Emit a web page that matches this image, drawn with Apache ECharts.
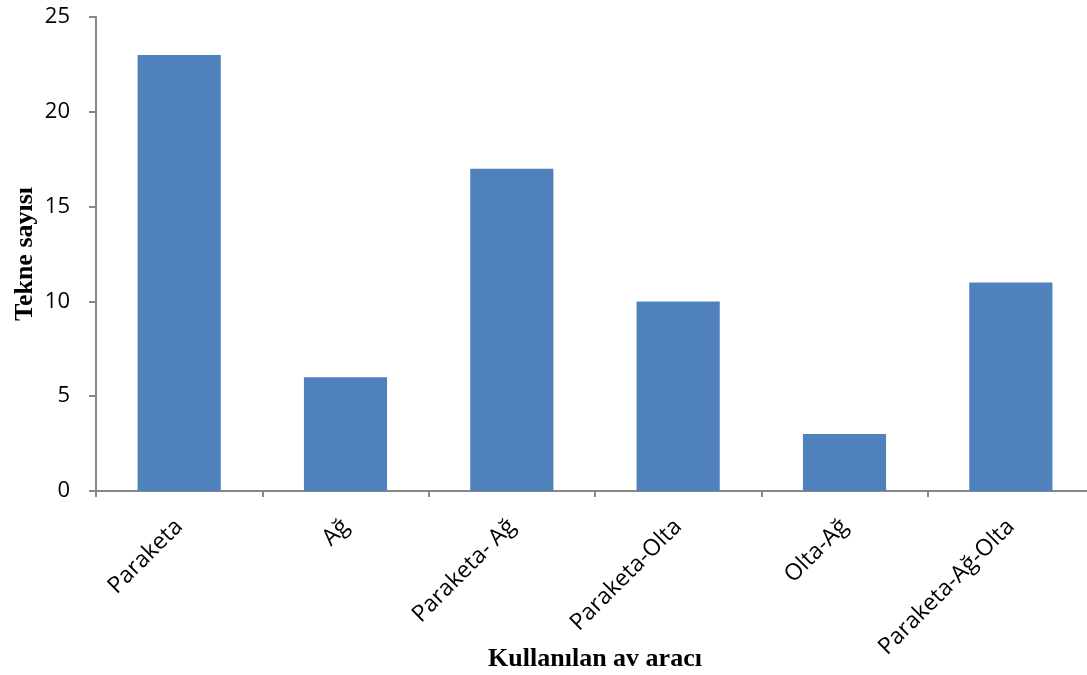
<!DOCTYPE html>
<html>
<head>
<meta charset="utf-8">
<script src="https://cdn.jsdelivr.net/npm/echarts@6/dist/echarts.min.js"></script>
<style>html,body{margin:0;padding:0;background:#fff}#c{width:1087px;height:675px}</style>
</head>
<body>
<div id="c"></div>
<script>
const categories = ['Paraketa', 'Ağ', 'Paraketa- Ağ', 'Paraketa-Olta', 'Olta-Ağ', 'Paraketa-Ağ-Olta'];
const values = [23, 6, 17, 10, 3, 11];
const yTicks = [0, 5, 10, 15, 20, 25];
const xName = 'Kullanılan av aracı';
const yName = 'Tekne sayısı';

const chart = echarts.init(document.getElementById('c'), null, {renderer: 'canvas'});
chart.setOption({
  animation: false,
  grid: {left: 96, width: 998, top: 17, height: 474, containLabel: false, outerBoundsMode: 'none'},
  xAxis: {
    type: 'category',
    data: categories,
    name: xName,
    nameLocation: 'middle',
    nameGap: 155,
    nameMoveOverlap: false,
    nameTextStyle: {fontFamily: 'Liberation Serif', fontWeight: 'bold', fontSize: 26, color: '#000'},
    axisLine: {lineStyle: {color: '#878787', width: 2}},
    axisTick: {show: true, length: 6, lineStyle: {color: '#878787', width: 2}},
    axisLabel: {rotate: 45, margin: 32, fontFamily: 'Open Sans', fontSize: 23, color: '#000', interval: 0}
  },
  yAxis: {
    type: 'value',
    min: yTicks[0],
    max: yTicks[yTicks.length - 1],
    interval: 5,
    name: yName,
    nameLocation: 'middle',
    nameGap: 58,
    nameRotate: 90,
    nameMoveOverlap: false,
    nameTextStyle: {fontFamily: 'Liberation Serif', fontWeight: 'bold', fontSize: 26, color: '#000'},
    axisLine: {show: true, lineStyle: {color: '#878787', width: 2}},
    axisTick: {show: true, length: 7, lineStyle: {color: '#878787', width: 2}},
    axisLabel: {margin: 26, fontFamily: 'Open Sans', fontSize: 22, color: '#000'},
    splitLine: {show: false}
  },
  series: [{
    type: 'bar',
    data: values,
    barCategoryGap: '50%',
    itemStyle: {color: '#4F81BD'}
  }]
});
</script>
</body>
</html>
